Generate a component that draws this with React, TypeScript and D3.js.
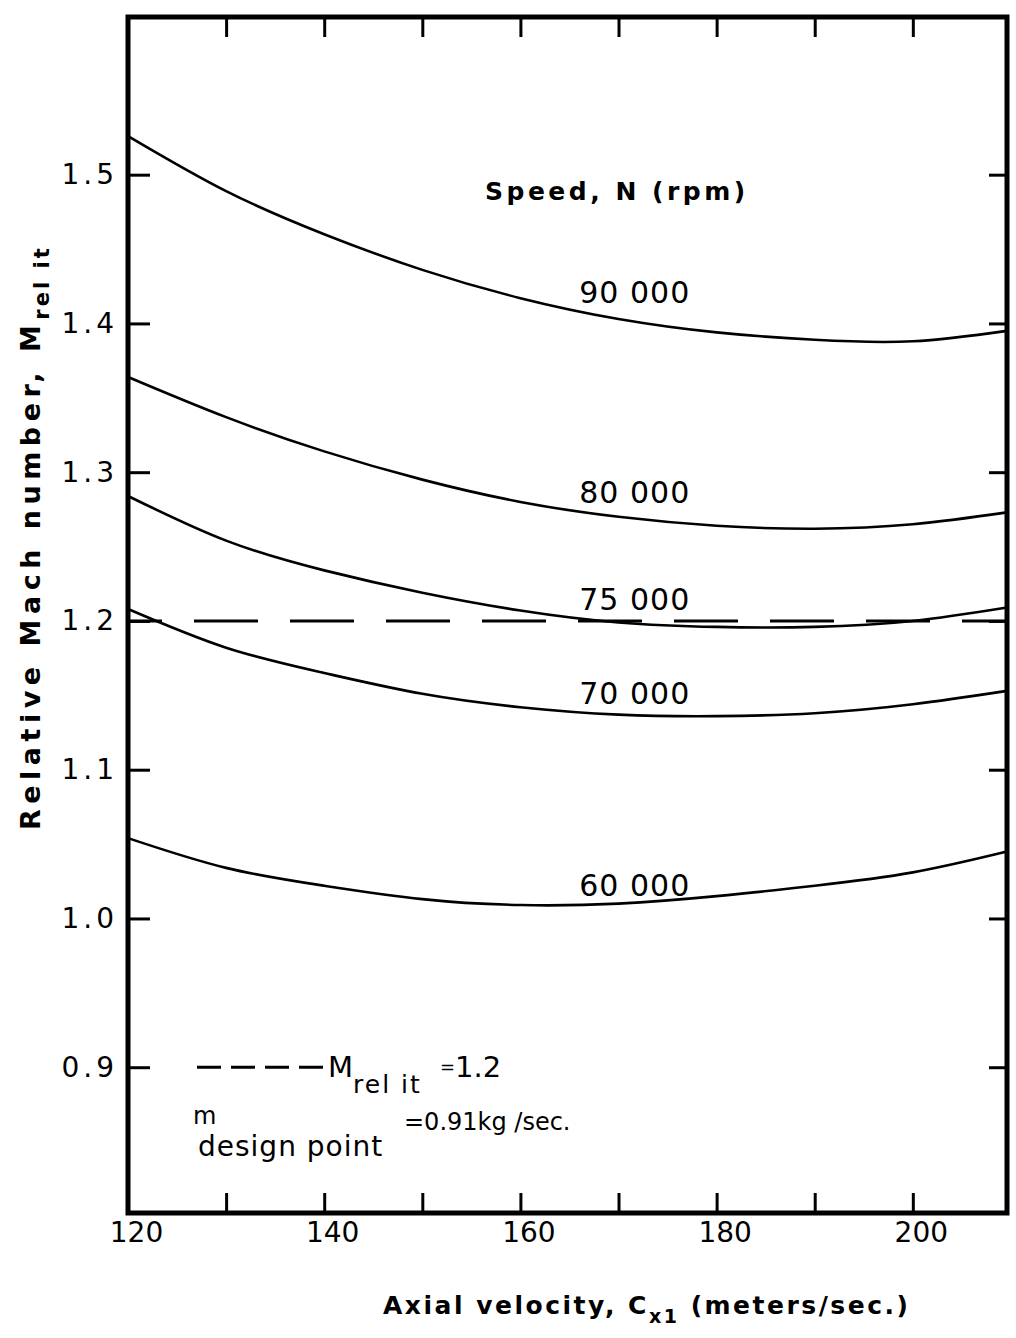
import React, { useEffect, useRef } from "react";
import * as d3 from "d3";

const velocity = [120, 130, 140, 150, 160, 170, 180, 190, 200, 209.6];
// relative Mach number at tip, per speed
const mach90000 = [1.526, 1.489, 1.46, 1.436, 1.417, 1.403, 1.394, 1.389, 1.388, 1.395];
const mach80000 = [1.364, 1.337, 1.314, 1.295, 1.28, 1.27, 1.264, 1.262, 1.265, 1.273];
const mach75000 = [1.284, 1.254, 1.234, 1.219, 1.207, 1.199, 1.196, 1.196, 1.2, 1.209];
const mach70000 = [1.208, 1.182, 1.165, 1.151, 1.142, 1.137, 1.136, 1.138, 1.144, 1.153];
const mach60000 = [1.054, 1.034, 1.022, 1.013, 1.009, 1.01, 1.015, 1.022, 1.031, 1.045];
const speedLabels = ["90 000", "80 000", "75 000", "70 000", "60 000"];

const xTicks = [120, 130, 140, 150, 160, 170, 180, 190, 200];
const xTickLabels = [120, 140, 160, 180, 200];
const yTicks = [0.9, 1.0, 1.1, 1.2, 1.3, 1.4, 1.5];
const designMach = 1.2;
const labelVelocity = 166;

const FONT = "'DejaVu Sans', sans-serif";

const App = () => {
    const ref = useRef<SVGSVGElement>(null);
    const size = { width: 1016, height: 1338 };

    useEffect(() => {
        const svg = d3.select(ref.current);
        svg.selectAll("*").remove();

        const x = d3.scaleLinear().domain([120, 209.6]).range([128, 1007]);
        const y = d3.scaleLinear().domain([0.802, 1.606]).range([1213, 17]);
        const [x0, x1] = x.range();
        const [yb, yt] = y.range();

        // axes - ticks point inward on all four sides
        const bottom = svg
            .append("g")
            .attr("transform", `translate(0,${yb})`)
            .call(
                d3
                    .axisBottom(x)
                    .tickValues(xTicks)
                    .tickSize(-20)
                    .tickSizeOuter(0)
                    .tickPadding(9)
                    .tickFormat((d) => (xTickLabels.includes(+d) ? String(d) : ""))
            );
        const top = svg
            .append("g")
            .attr("transform", `translate(0,${yt})`)
            .call(d3.axisTop(x).tickValues(xTicks).tickSize(-20).tickSizeOuter(0).tickFormat(() => ""));
        const left = svg
            .append("g")
            .attr("transform", `translate(${x0},0)`)
            .call(
                d3
                    .axisLeft(y)
                    .tickValues(yTicks)
                    .tickSize(-22)
                    .tickSizeOuter(0)
                    .tickPadding(10)
                    .tickFormat(d3.format(".1f"))
            );
        const right = svg
            .append("g")
            .attr("transform", `translate(${x1},0)`)
            .call(d3.axisRight(y).tickValues(yTicks).tickSize(-18).tickSizeOuter(0).tickFormat(() => ""));

        [bottom, top, left, right].forEach((g) => {
            g.select(".domain").remove();
            g.selectAll(".tick line").attr("stroke", "#000").attr("stroke-width", 3);
            g.attr("font-family", FONT).attr("font-size", 28);
        });
        bottom.selectAll(".tick text").attr("fill", "#000").attr("dx", 8);
        left.selectAll(".tick text").attr("fill", "#000").attr("letter-spacing", 4).attr("font-size", 28);

        // frame
        svg.append("rect")
            .attr("x", x0)
            .attr("y", yt)
            .attr("width", x1 - x0)
            .attr("height", yb - yt)
            .attr("fill", "none")
            .attr("stroke", "#000")
            .attr("stroke-width", 5);

        // design Mach line
        svg.append("line")
            .attr("x1", x0)
            .attr("x2", x1)
            .attr("y1", y(designMach))
            .attr("y2", y(designMach))
            .attr("stroke", "#000")
            .attr("stroke-width", 3)
            .attr("stroke-dasharray", "64 32")
            .attr("stroke-dashoffset", 30);

        const series = [mach90000, mach80000, mach75000, mach70000, mach60000];
        const line = d3
            .line<number>()
            .x((d, i) => x(velocity[i]))
            .y((d) => y(d))
            .curve(d3.curveNatural);

        series.forEach((s, k) => {
            svg.append("path")
                .datum(s)
                .attr("d", line)
                .attr("fill", "none")
                .attr("stroke", "#000")
                .attr("stroke-width", 2.6);

            const ly = d3.scaleLinear().domain(velocity).range(s)(labelVelocity);
            svg.append("text")
                .attr("x", x(labelVelocity))
                .attr("y", y(ly) - 8)
                .attr("font-family", FONT)
                .attr("font-size", 30)
                .attr("letter-spacing", 1)
                .text(speedLabels[k]);
        });

        svg.append("text")
            .attr("x", 485)
            .attr("y", 200)
            .attr("font-family", FONT)
            .attr("font-size", 25)
            .attr("font-weight", "bold")
            .attr("letter-spacing", 3.5)
            .text("Speed, N (rpm)");

        // legend
        svg.append("line")
            .attr("x1", 197)
            .attr("x2", 324)
            .attr("y1", y(0.9))
            .attr("y2", y(0.9))
            .attr("stroke", "#000")
            .attr("stroke-width", 3)
            .attr("stroke-dasharray", "24 10");

        const leg1 = svg.append("text").attr("x", 328).attr("y", 1077).attr("font-family", FONT).attr("font-size", 29);
        leg1.append("tspan").text("M");
        leg1.append("tspan").attr("dy", 16).attr("font-size", 25).attr("letter-spacing", 2).text("rel it");
        leg1.append("tspan").attr("x", 440).attr("dy", -20).attr("font-size", 18).text("=");
        leg1.append("tspan").attr("x", 455).attr("dy", 4).text("1.2");

        const leg2 = svg.append("text").attr("x", 193).attr("y", 1124).attr("font-family", FONT).attr("font-size", 24);
        leg2.append("tspan").text("m");
        leg2.append("tspan").attr("x", 198).attr("dy", 32).attr("font-size", 28).attr("letter-spacing", 1).text("design point");
        leg2.append("tspan").attr("x", 404).attr("dy", -26).attr("font-size", 24).text("=0.91kg /sec.");

        // axis titles
        const yTitle = svg
            .append("text")
            .attr("transform", "translate(40,830) rotate(-90)")
            .attr("font-family", FONT)
            .attr("font-size", 27)
            .attr("font-weight", "bold")
            .attr("letter-spacing", 5.5);
        yTitle.append("tspan").text("Relative Mach number, M");
        yTitle.append("tspan").attr("dy", 9).attr("font-size", 21).attr("letter-spacing", 3).text("rel it");

        const xTitle = svg
            .append("text")
            .attr("x", 383)
            .attr("y", 1314)
            .attr("font-family", FONT)
            .attr("font-size", 25)
            .attr("font-weight", "bold")
            .attr("letter-spacing", 2.5);
        xTitle.append("tspan").text("Axial velocity, C");
        xTitle.append("tspan").attr("dy", 9).attr("font-size", 19).text("x1");
        xTitle.append("tspan").attr("dy", -9).text(" (meters/sec.)");
    }, []);

    return (
        <svg
            ref={ref}
            width={size.width}
            height={size.height}
            style={{ position: "absolute", left: 0, top: 0, background: "#fff" }}
        ></svg>
    );
};

export default App;
